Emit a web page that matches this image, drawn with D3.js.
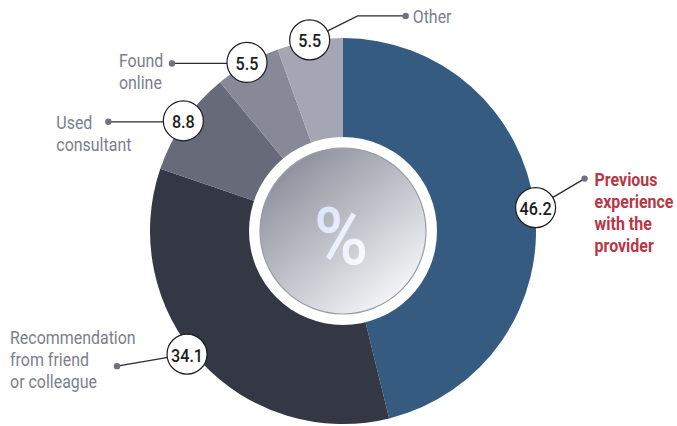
<!DOCTYPE html>
<meta charset="utf-8">
<style>
body { margin: 0; background: #fff; }
.lbl { font: 19px Roboto, "DejaVu Sans", sans-serif; fill: #7b7e8b; }
.lbl.main { fill: #b73747; font-weight: bold; }
.num { font: 500 19px Roboto, "DejaVu Sans", sans-serif; fill: #1c1c22; }
.lead { fill: none; stroke: #2a2a30; stroke-width: 1.2px; }
</style>
<svg width="677" height="426"></svg>
<script src="https://d3js.org/d3.v7.min.js"></script>
<script>
var categories = ["Previous experience with the provider", "Recommendation from friend or colleague",
  "Used consultant", "Found online", "Other"];
var labelLines = [["Previous", "experience", "with the", "provider"],
  ["Recommendation", "from friend", "or colleague"],
  ["Used", "consultant"], ["Found", "online"], ["Other"]];
var values = [46.2, 34.1, 8.8, 5.5, 5.5];
var colors = ["#355c80", "#343845", "#666a79", "#878a96", "#a4a7b3"];

var svg = d3.select("svg"),
    cx = 343, cy = 231, R = 193,
    squeeze = 0.84;

var defs = svg.append("defs");
var grad = defs.append("linearGradient").attr("id", "hub")
  .attr("x1", "10%").attr("y1", "5%").attr("x2", "85%").attr("y2", "95%");
grad.append("stop").attr("offset", "0%").attr("stop-color", "#868996");
grad.append("stop").attr("offset", "55%").attr("stop-color", "#c4c6cd");
grad.append("stop").attr("offset", "100%").attr("stop-color", "#fafafc");
var pg = defs.append("linearGradient").attr("id", "pct")
  .attr("x1", "0%").attr("y1", "0%").attr("x2", "100%").attr("y2", "100%");
pg.append("stop").attr("offset", "0%").attr("stop-color", "#d6e0fb");
pg.append("stop").attr("offset", "100%").attr("stop-color", "#ffffff");

var g = svg.append("g").attr("transform", "translate(" + cx + "," + cy + ")");

var pie = d3.pie().sort(null).value(function(d) { return d; });
var arcs = pie(values);
var arc = d3.arc().innerRadius(0).outerRadius(R);

g.selectAll("path.slice").data(arcs).enter().append("path")
  .attr("class", "slice")
  .attr("d", arc)
  .attr("fill", function(d, i) { return colors[i]; });

g.append("circle").attr("r", 94).attr("fill", "#fff");
g.append("circle").attr("r", 83).attr("fill", "url(#hub)")
  .attr("stroke", "#9a9ca6").attr("stroke-width", 1.2);
g.append("text").attr("transform", "translate(-2,6) scale(0.92,1)").attr("text-anchor", "middle")
  .attr("dominant-baseline", "central")
  .style("font", "500 80px Roboto, sans-serif")
  .attr("fill", "url(#pct)").text("%");

function pt(a, r) { return [r * Math.sin(a), -r * Math.cos(a)]; }

arcs.forEach(function(d, i) {
  var mid = (d.startAngle + d.endAngle) / 2;
  var c = pt(mid, R + 1);
  var dot, path;
  if (i === 0) {
    dot = [c[0] + 49, c[1] - 29];
    path = [c, dot];
  } else if (i === 1) {
    c = [c[0] - 13, c[1] - 8];
    dot = [c[0] - 70, c[1] + 12];
    path = [c, dot];
  } else if (i === 4) {
    var elbow = [c[0] + 48, c[1] - 24];
    dot = [c[0] + 96, c[1] - 24];
    path = [c, elbow, dot];
  } else {
    dot = [c[0] - 75, c[1] + 1];
    path = [[c[0], dot[1]], dot];
  }
  g.append("path").attr("class", "lead").attr("d", d3.line()(path));
  g.append("circle").attr("cx", dot[0]).attr("cy", dot[1]).attr("r", 3.2).attr("fill", "#6e717e");

  var lines = labelLines[i];
  var lh = 22;
  var tx, ty;
  if (i === 0) { tx = dot[0] + 10; ty = dot[1] + 7; }
  else if (i === 4) { tx = dot[0] + 7; ty = dot[1] + 7; }
  else if (i === 1) { tx = dot[0] - 107; ty = dot[1] - 22; }
  else if (i === 2) { tx = dot[0] - 52; ty = dot[1] + 7; }
  else { tx = dot[0] - 53; ty = dot[1] + 4; }
  var t = g.append("text").attr("class", "lbl" + (i === 0 ? " main" : ""))
    .attr("transform", "translate(" + tx + "," + ty + ") scale(" + squeeze + ",1)");
  lines.forEach(function(s, j) {
    t.append("tspan").attr("x", 0).attr("dy", j === 0 ? 0 : lh).text(s);
  });

  g.append("circle").attr("cx", c[0]).attr("cy", c[1]).attr("r", 20)
    .attr("fill", "#fff").attr("stroke", "#1c1c22").attr("stroke-width", 1.2);
  g.append("text").attr("class", "num")
    .attr("transform", "translate(" + c[0] + "," + (c[1] + 1) + ") scale(0.85,1)")
    .attr("text-anchor", "middle").attr("dominant-baseline", "central")
    .text(d3.format(".1f")(values[i]));
});
</script>
